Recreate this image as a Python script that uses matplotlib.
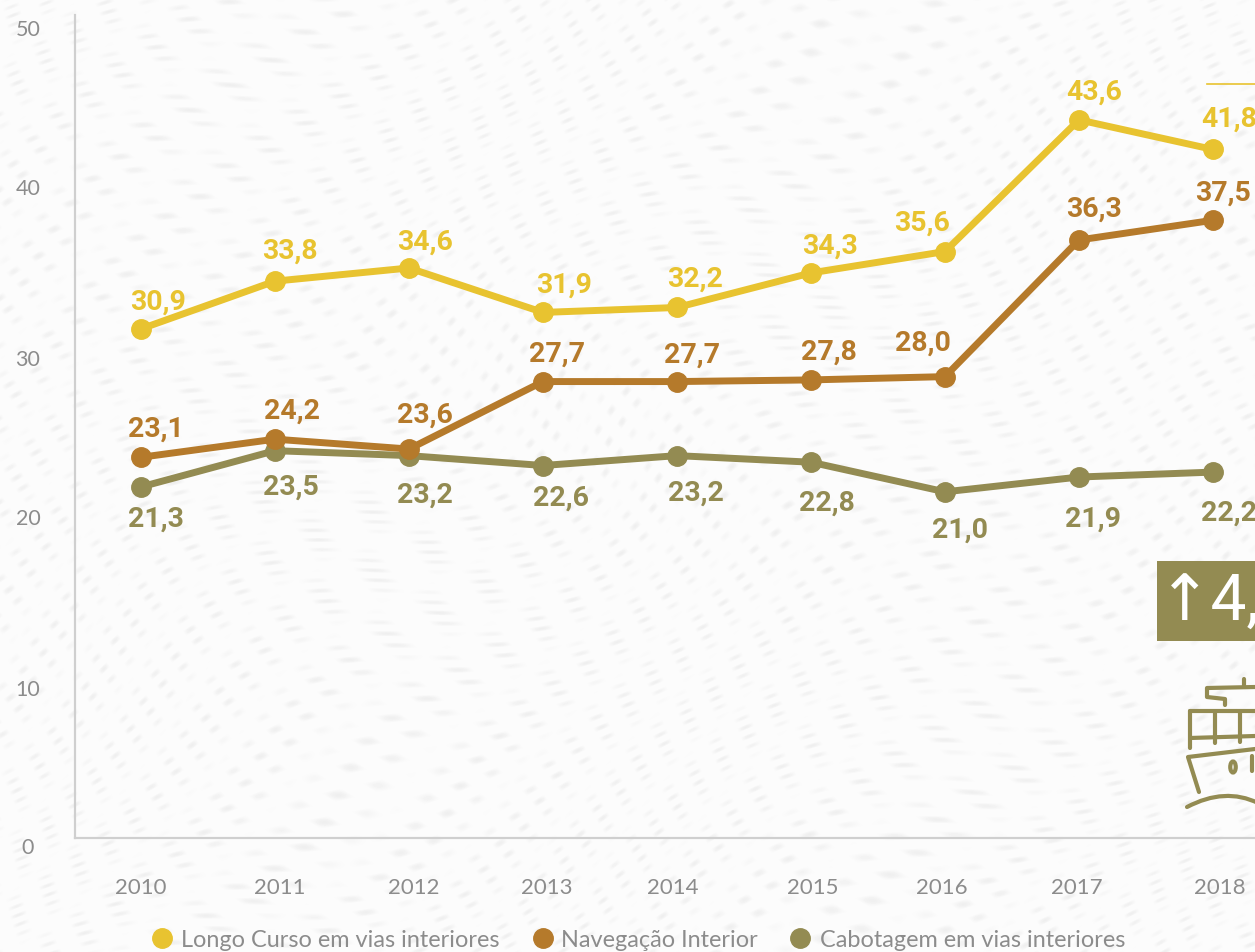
import numpy as np
import matplotlib
matplotlib.use('Agg')
import matplotlib.pyplot as plt
from matplotlib.patches import Ellipse, PathPatch, Rectangle
from matplotlib.path import Path

years = [2010, 2011, 2012, 2013, 2014, 2015, 2016, 2017, 2018]
y_ticks = [0, 10, 20, 30, 40, 50]

longo_curso = [30.9, 33.8, 34.6, 31.9, 32.2, 34.3, 35.6, 43.6, 41.8]
navegacao = [23.1, 24.2, 23.6, 27.7, 27.7, 27.8, 28.0, 36.3, 37.5]
cabotagem = [21.3, 23.5, 23.2, 22.6, 23.2, 22.8, 21.0, 21.9, 22.2]

series_names = ['Longo Curso em vias interiores', 'Navegação Interior', 'Cabotagem em vias interiores']

YELLOW = '#e8c330'
ORANGE = '#b57a2b'
OLIVE = '#938b52'
TICK_GREY = '#8c8c8c'

W, H = 1255, 953

# label offsets in pixels from each point
longo_off = [(17, 30), (15, 33), (16, 29), (21, 30), (18, 31), (19, 30), (-23, 31), (15, 31), (16, 33)]
nav_off = [(15, 31), (17, 31), (16, 37), (14, 30), (15, 29), (18, 31), (-22, 36), (15, 34), (10, 30)]
cab_off = [(15, -29), (16, -33), (16, -37), (18, -30), (19, -35), (16, -38), (15, -35), (14, -39), (16, -38)]

year_off = [0, 5, 5, 4, -4, 2, -3, -2, 7]
tick_off = [11, 16.6, 11.2, 16.8, 10.4, 16]


def wave_texture():
    # faint paper grain made of short wavy strokes
    yy, xx = np.mgrid[0:H, 0:W]
    warp = 30 * np.sin(xx / 95.0 + 1.2 * np.sin(yy / 140.0)) + 18 * np.sin(yy / 70.0 - xx / 210.0)
    stripes = np.sin((yy + warp + 0.35 * xx) / 2.2)
    breaks = np.sin((xx - 0.8 * yy + warp) / 7.0) * np.sin((xx + yy) / 29.0 + warp / 30.0)
    strokes = np.clip(stripes, 0, 1) * np.clip(breaks, 0, 1)
    return 0.985 - 0.05 * strokes


def draw_ship(ov):
    paths = [
        [(1243.5, 680), (1243.5, 688)],
        [(1255, 688), (1207, 689), (1207, 698), (1225, 700), (1225, 706)],
        [(1190, 712), (1255, 712)],
        [(1190, 712), (1190, 749)],
        [(1190, 739), (1255, 737)],
        [(1215, 712), (1215, 744)],
        [(1240, 712), (1240, 743)],
        [(1255, 750), (1188, 758), (1199, 793)],
        [(1252, 757), (1252, 772)],
    ]
    for path in paths:
        xs, ys = zip(*path)
        ov.plot(xs, ys, color=OLIVE, lw=3, solid_capstyle='round', solid_joinstyle='round')
    water = Path([(1187, 808), (1225, 788), (1258, 804)], [Path.MOVETO, Path.CURVE3, Path.CURVE3])
    ov.add_patch(PathPatch(water, fill=False, ec=OLIVE, lw=3, capstyle='round'))
    ov.add_patch(Ellipse((1233, 768), 5.5, 11, fill=False, ec=OLIVE, lw=3))


def plot_lines(ax, values, offsets, color):
    ax.plot(years, values, color=color, lw=5, marker='o', ms=14, clip_on=False)
    for year, value, off in zip(years, values, offsets):
        ax.annotate(f'{value:.1f}'.replace('.', ','), (year, value), xytext=(off[0], off[1] - 2),
                    textcoords='offset pixels', ha='center', va='center', color=color,
                    fontsize=20.5, fontweight='bold', family='Roboto')


fig = plt.figure(figsize=(W / 100, H / 100), dpi=100)

bg = fig.add_axes([0, 0, 1, 1], zorder=0)
bg.imshow(wave_texture(), cmap='gray', vmin=0, vmax=1, aspect='auto', interpolation='bilinear')
bg.axis('off')

ax = fig.add_axes([75 / W, 1 - 838.5 / H, (W - 75) / W, 823 / H], zorder=1)
ax.patch.set_alpha(0)
ax.set_xlim(2010 - 66 / 134, 2010 + (W - 141) / 134)
ax.set_ylim(0, 50)
for side in ['top', 'right']:
    ax.spines[side].set_visible(False)
for side in ['left', 'bottom']:
    ax.spines[side].set_color('#cfcfcf')
    ax.spines[side].set_linewidth(1.6)

ax.set_xticks([])
ax.set_yticks([])
for tick, off in zip(y_ticks, tick_off):
    ax.annotate(str(tick), (2010 - 66 / 134, tick), xytext=(-47, -off + 1), textcoords='offset pixels',
                ha='center', va='center', color=TICK_GREY, fontsize=15.5, family='Lato',
                annotation_clip=False)
for year, off in zip(years, year_off):
    ax.annotate(str(year), (year, 0), xytext=(off, -49), textcoords='offset pixels',
                ha='center', va='center', color=TICK_GREY, fontsize=16, family='Lato',
                annotation_clip=False)

plot_lines(ax, cabotagem, cab_off, OLIVE)
plot_lines(ax, navegacao, nav_off, ORANGE)
plot_lines(ax, longo_curso, longo_off, YELLOW)

# overlay in pixel coordinates for legend, badge and icon
ov = fig.add_axes([0, 0, 1, 1], zorder=2)
ov.set_xlim(0, W)
ov.set_ylim(H, 0)
ov.axis('off')

ov.plot([1207, W], [85, 85], color=YELLOW, lw=1.2)
ov.add_patch(Rectangle((1157, 562), W - 1157, 80, color=OLIVE, lw=0))
ov.text(1158, 603, '↑4,2%', color='white', fontsize=46, ha='left', va='center',
        family=['Roboto', 'DejaVu Sans'])
draw_ship(ov)

legend_dots = [162, 543, 800]
legend_text = [181, 561, 820]
for dot, tx, name, color in zip(legend_dots, legend_text, series_names, [YELLOW, ORANGE, OLIVE]):
    ov.plot([dot], [939], 'o', color=color, ms=14)
    ov.text(tx, 941, name, color=TICK_GREY, fontsize=16.9, ha='left', va='center', family='Lato')

fig.savefig('out.png', dpi=100)
